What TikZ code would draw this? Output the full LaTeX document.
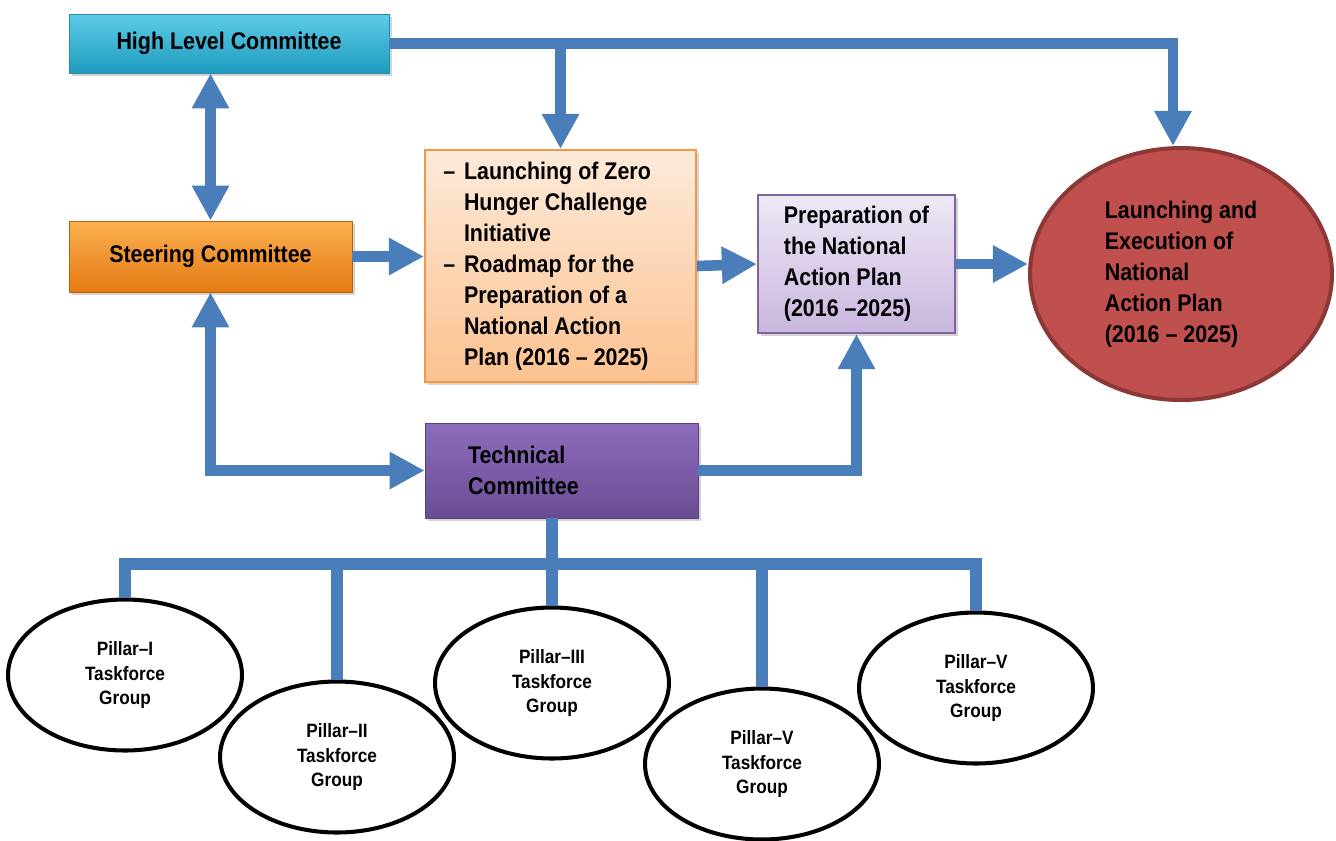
\documentclass[tikz,border=0pt]{standalone}
\usepackage{xcolor}
\usepackage{fontspec}
\setmainfont{Liberation Sans}[FakeStretch=0.89]
\usepackage{tikz}
\usetikzlibrary{calc}
\usetikzlibrary{arrows.meta}
\usetikzlibrary{shapes}
\usetikzlibrary{shapes.geometric}
\usetikzlibrary{shadows}
\definecolor{flowblue}{HTML}{4A7EBB}
\definecolor{hlctop}{HTML}{5CCBE6}
\definecolor{hlcbot}{HTML}{1E9CC0}
\definecolor{hlcline}{HTML}{2B8BA8}
\definecolor{steertop}{HTML}{FBB050}
\definecolor{steerbot}{HTML}{E57A12}
\definecolor{steerline}{HTML}{B8600F}
\definecolor{launchtop}{HTML}{FDEADA}
\definecolor{launchbot}{HTML}{FBC28F}
\definecolor{launchline}{HTML}{F79646}
\definecolor{preptop}{HTML}{EEE8F5}
\definecolor{prepbot}{HTML}{C9B6DF}
\definecolor{prepline}{HTML}{8064A2}
\definecolor{techtop}{HTML}{8E6CBD}
\definecolor{techbot}{HTML}{6A4C93}
\definecolor{techline}{HTML}{5B3F80}
\definecolor{planfill}{HTML}{C0504D}
\definecolor{planline}{HTML}{8C3836}
\newcommand{\boxfont}{\fontsize{13.7}{17.6}\selectfont\bfseries}
\newcommand{\pillarfont}{\fontsize{11}{13.9}\selectfont\bfseries}
\newcommand{\dashitem}{\leavevmode\llap{--\hspace{5pt}}}
\tikzstyle{box} = [rectangle, inner sep=0pt, font=\boxfont, drop shadow={opacity=0.35, shadow xshift=1.5pt, shadow yshift=-1.5pt}]
\tikzstyle{flow} = [-{Triangle[width=20pt, length=20pt]}, draw=flowblue, line width=6pt]
\tikzstyle{biflow} = [{Triangle[width=20pt, length=20pt]}-{Triangle[width=20pt, length=20pt]}, draw=flowblue, line width=6pt]
\tikzstyle{bus} = [-, draw=flowblue, line width=6.5pt]
\tikzstyle{pillar} = [ellipse, draw=black, line width=2.3pt, fill=white, minimum width=4.68cm, minimum height=3.02cm, inner sep=0pt, align=center, font=\pillarfont]

\begin{document}
\begin{tikzpicture}[x=0.02cm, y=-0.02cm]
\useasboundingbox (0, 0) rectangle (1336, 840);
\node [box, top color=hlctop, bottom color=hlcbot, draw=hlcline, minimum width=6.4cm, minimum height=1.18cm] (H) at (229, 43.5) {High Level Committee};
\node [box, top color=steertop, bottom color=steerbot, draw=steerline, minimum width=5.66cm, minimum height=1.42cm] (S) at (210.5, 256.5) {Steering Committee};
\node [box, top color=launchtop, bottom color=launchbot, draw=launchline, line width=1.2pt, inner xsep=0.78cm, text width=3.86cm, minimum height=4.64cm, align=flush left] (L) at (560.5, 266) {\dashitem Launching of Zero\\Hunger Challenge\\Initiative\\\dashitem Roadmap for the\\Preparation of a\\National Action\\Plan (2016 -- 2025)};
\node [box, top color=preptop, bottom color=prepbot, draw=prepline, line width=1.2pt, minimum width=3.94cm, minimum height=2.76cm, align=left] (P) at (856.5, 264) {Preparation of\\the National\\Action Plan\\(2016 --2025)};
\node [ellipse, fill=planfill, draw=planline, line width=2.3pt, minimum width=6.04cm, minimum height=5.04cm, inner sep=0pt, align=left, font=\boxfont] (E) at (1181, 274) {Launching and\\Execution of\\National\\Action Plan\\(2016 -- 2025)};
\node [box, top color=techtop, bottom color=techbot, draw=techline, inner xsep=0.86cm, text width=3.74cm, minimum height=1.9cm, align=flush left] (T) at (561.5, 470.5) {Technical\\Committee};
\node [pillar] (P1) at (125, 675) {Pillar--I\\Taskforce\\Group};
\node [pillar] (P2) at (337, 757) {Pillar--II\\Taskforce\\Group};
\node [pillar] (P3) at (552, 683) {Pillar--III\\Taskforce\\Group};
\node [pillar] (P4) at (762, 764) {Pillar--V\\Taskforce\\Group};
\node [pillar] (P5) at (976, 688) {Pillar--V\\Taskforce\\Group};
\coordinate (B) at (552, 564);
\draw [flow] (H.east) -| ([xshift=-0.16cm]E.north);
\draw [flow] (H.east -| L.north) -- (L.north);
\draw [biflow] (H.south -| S.north) -- (S.north);
\draw [flow] (S.east) -- (S.east -| L.west);
\draw [flow] (L.east) -- (P.west);
\draw [flow] (P.east) -- (P.east -| E.west);
\draw [biflow] (S.south) |- (T.west);
\draw [flow] (T.east) -| (P.south);
\draw [bus] (T.south -| P3.north) -- (P3.north);
\draw [bus] (P1.north) |- (B) -| (P5.north);
\draw [bus] (P2.north) -- (P2.north |- B);
\draw [bus] (P4.north) -- (P4.north |- B);
\end{tikzpicture}
\end{document}
